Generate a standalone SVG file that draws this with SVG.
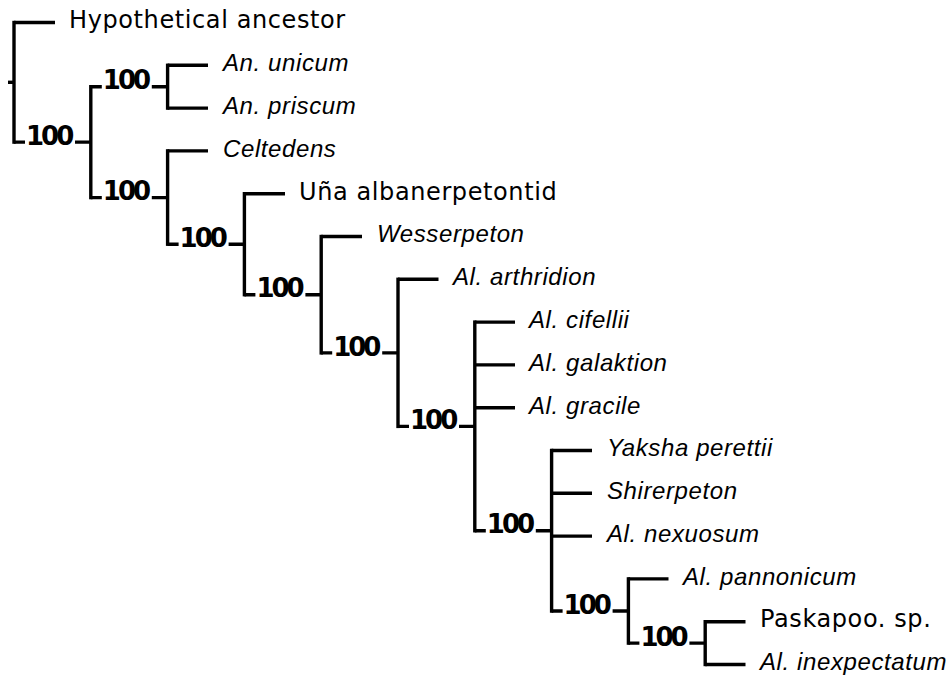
<svg xmlns="http://www.w3.org/2000/svg" width="952" height="677" viewBox="0 0 952 677">
  <style>
    .br { stroke: #000; stroke-width: 3.4; fill: none; }
    .vt { stroke: #000; stroke-width: 3.4; fill: none; stroke-linecap: square; }
    .tx { font-family: "DejaVu Sans", Verdana, sans-serif; font-size: 24px; fill: #000; letter-spacing: 0.6px; }
    .it { font-family: "Liberation Sans", Arial, sans-serif; font-style: italic; font-size: 24px; fill: #000; letter-spacing: 0.6px; }
    .bs { font-family: "DejaVu Sans", Verdana, sans-serif; font-weight: bold; font-size: 26px; fill: #000; letter-spacing: -3px; }
  </style>
  <rect width="952" height="677" fill="#fff"/>

  <!-- branches -->
  <g id="connectors">
    <!-- root stub -->
    <path class="br" d="M8 82.3 H14"/>
    <!-- vertical bars of internal nodes -->
    <path class="vt" d="M14 22.5 V142.1"/>
    <path class="vt" d="M90.8 86.7 V197.6"/>
    <path class="vt" d="M167.6 65.3 V108.1"/>
    <path class="vt" d="M167.6 150.9 V244.2"/>
    <path class="vt" d="M244.4 193.7 V294.7"/>
    <path class="vt" d="M321.2 236.5 V352.9"/>
    <path class="vt" d="M398 279.3 V426.4"/>
    <path class="vt" d="M474.8 322.1 V530.75"/>
    <path class="vt" d="M551.6 450.5 V611"/>
    <path class="vt" d="M628.4 578.9 V643.1"/>
    <path class="vt" d="M705.2 621.7 V664.5"/>
    <!-- terminal branches -->
    <path class="br" d="M14 22.5 H55"/>
    <path class="br" d="M167.6 65.3 H208 M167.6 108.1 H208 M167.6 150.9 H208"/>
    <path class="br" d="M244.4 193.7 H285"/>
    <path class="br" d="M321.2 236.5 H362"/>
    <path class="br" d="M398 279.3 H438.5"/>
    <path class="br" d="M474.8 322.1 H515 M474.8 364.9 H515 M474.8 407.7 H515"/>
    <path class="br" d="M551.6 450.5 H592 M551.6 493.3 H592 M551.6 536.1 H592"/>
    <path class="br" d="M628.4 578.9 H668.5"/>
    <path class="br" d="M705.2 621.7 H745.5 M705.2 664.5 H745.5"/>
    <!-- internal branches, broken around the support values -->
    <path class="br" d="M14 142.1 H25 M75 142.1 H90.8"/>
    <path class="br" d="M90.8 86.7 H101.8 M151.8 86.7 H167.6"/>
    <path class="br" d="M90.8 197.6 H101.8 M151.8 197.6 H167.6"/>
    <path class="br" d="M167.6 244.2 H178.6 M228.6 244.2 H244.4"/>
    <path class="br" d="M244.4 294.7 H255.4 M305.4 294.7 H321.2"/>
    <path class="br" d="M321.2 352.9 H332.2 M382.2 352.9 H398"/>
    <path class="br" d="M398 426.4 H409 M459 426.4 H474.8"/>
    <path class="br" d="M474.8 530.75 H485.8 M535.8 530.75 H551.6"/>
    <path class="br" d="M551.6 611 H562.6 M612.6 611 H628.4"/>
    <path class="br" d="M628.4 643.1 H639.4 M689.4 643.1 H705.2"/>
  </g>

  <!-- terminal taxa -->
  <g id="hypothetical-ancestor"><text class="tx" x="69" y="28">Hypothetical ancestor</text></g>
  <g id="an-unicum"><text class="it" x="223" y="71">An. unicum</text></g>
  <g id="an-priscum"><text class="it" x="223" y="113.5">An. priscum</text></g>
  <g id="celtedens"><text class="it" x="223" y="156.5">Celtedens</text></g>
  <g id="una"><text class="tx" x="299" y="199.5">Uña albanerpetontid</text></g>
  <g id="wesserpeton"><text class="it" x="377" y="242">Wesserpeton</text></g>
  <g id="al-arthridion"><text class="it" x="453" y="285">Al. arthridion</text></g>
  <g id="al-cifellii"><text class="it" x="529" y="328">Al. cifellii</text></g>
  <g id="al-galaktion"><text class="it" x="529" y="370.5">Al. galaktion</text></g>
  <g id="al-gracile"><text class="it" x="529" y="413.5">Al. gracile</text></g>
  <g id="yaksha-perettii"><text class="it" x="607" y="456">Yaksha perettii</text></g>
  <g id="shirerpeton"><text class="it" x="607" y="499">Shirerpeton</text></g>
  <g id="al-nexuosum"><text class="it" x="607" y="541.5">Al. nexuosum</text></g>
  <g id="al-pannonicum"><text class="it" x="683" y="584.5">Al. pannonicum</text></g>
  <g id="paskapoo"><text class="tx" x="760" y="627">Paskapoo. sp.</text></g>
  <g id="al-inexpectatum"><text class="it" x="760" y="670">Al. inexpectatum</text></g>

  <!-- clade support values -->
  <g id="node-a"><text class="bs" x="26" y="144.8">100</text></g>
  <g id="node-an"><text class="bs" x="102.8" y="89.4">100</text></g>
  <g id="node-b"><text class="bs" x="102.8" y="200.3">100</text></g>
  <g id="node-c"><text class="bs" x="179.6" y="246.9">100</text></g>
  <g id="node-d"><text class="bs" x="256.4" y="297.4">100</text></g>
  <g id="node-e"><text class="bs" x="333.2" y="355.6">100</text></g>
  <g id="node-f"><text class="bs" x="410" y="429.1">100</text></g>
  <g id="node-g"><text class="bs" x="486.8" y="533.4">100</text></g>
  <g id="node-h"><text class="bs" x="563.6" y="613.7">100</text></g>
  <g id="node-i"><text class="bs" x="640.4" y="645.8">100</text></g>
</svg>
